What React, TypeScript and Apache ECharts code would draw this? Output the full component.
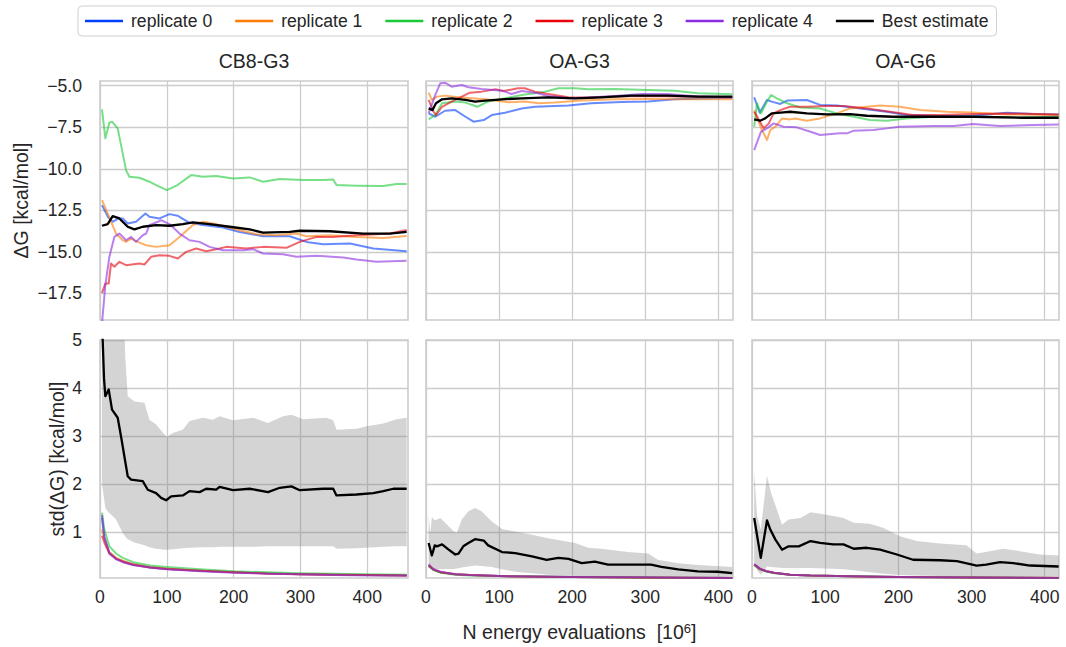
import React, { useEffect, useRef } from 'react';
import * as echarts from 'echarts';

// ---------- labels / ticks ----------
const REP_NAMES = ['replicate 0', 'replicate 1', 'replicate 2', 'replicate 3', 'replicate 4'];
const BEST_NAME = 'Best estimate';
const PANEL_TITLES = ['CB8-G3', 'OA-G3', 'OA-G6'];
const X_TICKS = [0, 100, 200, 300, 400];
const X_MAX = [461, 420, 419.5];
const DG_TICKS = [-17.5, -15, -12.5, -10, -7.5, -5];
const DG_RANGE = [-19.1, -4.72];
const STD_TICKS = [1, 2, 3, 4, 5];
const STD_RANGE = [0.04, 5];
const Y_LABEL_TOP = 'ΔG [kcal/mol]';
const Y_LABEL_BOTTOM = 'std(ΔG) [kcal/mol]';

// ---------- ΔG, CB8-G3 ----------
const cb8_dg_r0 = [[3,-12.19],[12,-12.9],[19,-13.19],[27,-13.0],[34,-12.99],[41.5,-13.29],[54,-13.19],[68,-12.69],[74,-12.89],[89,-12.99],[104,-12.73],[116.5,-12.83],[134,-13.25],[154,-13.39],[184,-13.53],[209,-13.8],[244,-14.06],[284,-14.06],[309,-14.4],[334,-14.54],[374,-14.5],[409,-14.8],[459,-14.96]];
const cb8_dg_r1 = [[3,-11.89],[11.5,-12.69],[24,-13.9],[34,-14.3],[39,-14.4],[46.5,-14.2],[56.5,-14.4],[69,-14.6],[84,-14.7],[104,-14.6],[119,-14.1],[139,-13.39],[154,-13.19],[174,-13.33],[199,-13.59],[234,-13.94],[264,-14.0],[294,-13.9],[309,-14.06],[344,-14.0],[384,-14.1],[424,-14.16],[459,-14.04]];
const cb8_dg_r2 = [[3,-6.43],[8,-8.17],[14,-7.23],[18,-7.17],[26.5,-7.57],[39,-10.08],[44,-10.48],[59,-10.54],[74,-10.78],[84,-10.98],[100,-11.29],[116,-10.98],[136.5,-10.38],[154,-10.48],[174,-10.44],[199,-10.58],[224,-10.52],[244,-10.78],[269,-10.62],[304,-10.68],[334,-10.68],[349,-10.64],[354,-10.98],[384,-11.02],[424,-11.04],[444,-10.92],[459,-10.92]];
const cb8_dg_r3 = [[3,-17.47],[8,-16.91],[13,-16.91],[16.5,-15.7],[21.5,-15.9],[29,-15.6],[39,-15.8],[59,-15.7],[66.5,-15.76],[76.5,-15.3],[89,-15.2],[104,-15.24],[116.5,-15.4],[129,-15.0],[144,-14.8],[159,-14.96],[179,-14.8],[189,-14.7],[219,-14.8],[244,-14.7],[279,-14.76],[299,-14.4],[324,-14.1],[349,-14.1],[384,-14.0],[434,-13.9],[459,-13.69]];
const cb8_dg_r4 = [[3,-19.3],[8,-17.0],[14,-15.3],[21.5,-14.1],[29,-13.9],[39,-14.3],[46.5,-14.1],[54,-14.4],[64,-14.0],[69,-13.9],[74,-13.39],[86.5,-13.19],[91.5,-13.09],[104,-13.33],[119,-13.9],[134,-14.3],[149,-14.4],[164,-14.7],[184,-14.9],[214,-14.9],[229,-14.84],[244,-15.1],[274,-15.14],[294,-15.3],[324,-15.24],[364,-15.34],[384,-15.46],[414,-15.6],[459,-15.54]];
const cb8_dg_best = [[3,-13.43],[11.5,-13.33],[19,-12.85],[29,-12.99],[41.5,-13.49],[51.5,-13.65],[64,-13.49],[84,-13.39],[104,-13.43],[124,-13.33],[139,-13.23],[164,-13.33],[194,-13.49],[224,-13.65],[244,-13.84],[284,-13.8],[299,-13.73],[344,-13.76],[394,-13.9],[434,-13.9],[459,-13.8]];

// ---------- ΔG, OA-G3 ----------
const oag3_dg_r0 = [[3.6,-6.67],[12.7,-6.87],[26,-6.51],[40,-6.47],[54,-6.87],[65,-7.17],[79,-7.07],[90,-6.77],[108,-6.63],[131,-6.37],[149,-6.27],[195,-6.2],[226,-6.06],[267,-5.98],[304,-5.96],[340,-5.82],[395,-5.76],[419,-5.72]];
const oag3_dg_r1 = [[3.6,-5.42],[8,-5.86],[15,-5.66],[26,-5.6],[45,-5.7],[81,-5.82],[113,-6.0],[135,-5.96],[154,-6.06],[176,-6.02],[213,-5.9],[258,-5.82],[304,-5.8],[349,-5.82],[419,-5.82]];
const oag3_dg_r2 = [[3.6,-7.03],[12.7,-6.77],[22,-6.06],[40,-5.96],[54,-6.02],[70,-6.27],[85,-5.96],[108,-5.76],[131,-5.56],[163,-5.36],[181,-5.16],[204,-5.16],[222,-5.22],[258,-5.2],[304,-5.26],[340,-5.3],[372,-5.46],[419,-5.52]];
const oag3_dg_r3 = [[3.6,-5.86],[10.5,-6.57],[13.6,-6.77],[22,-6.27],[35,-5.96],[49,-5.66],[60,-5.42],[76,-5.36],[95,-5.22],[106,-5.32],[126,-5.16],[135,-5.16],[149,-5.36],[167,-5.5],[195,-5.7],[222,-5.72],[258,-5.66],[304,-5.62],[349,-5.66],[419,-5.7]];
const oag3_dg_r4 = [[3.6,-6.67],[12.7,-5.56],[19.5,-4.86],[26,-4.82],[35,-5.06],[49,-4.96],[58,-5.1],[76,-5.2],[104,-5.3],[117,-5.5],[131,-5.32],[149,-5.42],[167,-5.62],[195,-5.76],[222,-5.72],[258,-5.62],[295,-5.5],[331,-5.5],[377,-5.66],[419,-5.7]];
const oag3_dg_best = [[3.6,-6.37],[9,-6.47],[13.6,-6.06],[22,-5.82],[35,-5.76],[54,-5.86],[67,-5.96],[81,-5.9],[104,-5.82],[131,-5.76],[167,-5.7],[204,-5.76],[240,-5.7],[281,-5.6],[331,-5.6],[372,-5.66],[419,-5.66]];

// ---------- ΔG, OA-G6 ----------
const oag6_dg_r0 = [[3,-5.7],[10.5,-6.63],[20.5,-5.86],[27,-5.96],[38.6,-6.1],[48,-5.9],[75,-5.86],[93,-6.16],[116,-6.2],[148,-6.37],[184,-6.57],[211,-6.77],[257,-6.83],[302,-6.81],[348,-6.63],[384,-6.71],[419,-6.73]];
const oag6_dg_r1 = [[3,-6.47],[13.6,-7.67],[20.5,-8.27],[25,-7.67],[32,-7.47],[41,-6.97],[52,-7.03],[59,-6.97],[75,-7.11],[93,-6.97],[116,-6.67],[134,-6.37],[157,-6.27],[175,-6.2],[202,-6.27],[230,-6.47],[266,-6.57],[302,-6.61],[348,-6.73],[419,-6.77]];
const oag6_dg_r2 = [[3,-7.47],[6.8,-6.06],[12.3,-6.67],[20.5,-5.96],[26,-5.56],[34,-5.76],[48,-6.06],[66,-6.31],[93,-6.37],[116,-6.67],[139,-6.87],[161,-7.07],[184,-7.11],[211,-6.97],[248,-6.87],[302,-6.87],[366,-6.91],[419,-6.87]];
const oag6_dg_r3 = [[3,-6.57],[16,-7.57],[23,-7.27],[29.5,-6.67],[38.6,-6.47],[52,-6.27],[75,-6.27],[102,-6.22],[125,-6.22],[157,-6.37],[189,-6.57],[220,-6.77],[257,-6.77],[302,-6.71],[348,-6.67],[419,-6.73]];
const oag6_dg_r4 = [[3,-8.88],[12.3,-7.77],[20.5,-7.57],[29.5,-7.27],[43,-7.47],[61,-7.51],[80,-7.77],[93,-7.97],[120,-7.87],[130,-7.87],[139,-7.71],[166,-7.67],[184,-7.57],[202,-7.47],[248,-7.43],[275,-7.43],[302,-7.31],[339,-7.43],[384,-7.37],[419,-7.33]];
const oag6_dg_best = [[3,-7.03],[11,-7.11],[18,-6.97],[27,-6.67],[43,-6.61],[52,-6.57],[75,-6.67],[102,-6.73],[134,-6.71],[157,-6.81],[193,-6.87],[239,-6.87],[302,-6.87],[370,-6.93],[419,-6.93]];

// ---------- std(ΔG), CB8-G3 ----------
const cb8_std_x = [3, 6.5, 14, 24, 34, 50, 75, 100, 150, 200, 250, 300, 350, 400, 459];
const cb8_std_r0 = [1.3, 0.9, 0.57, 0.45, 0.39, 0.32, 0.26, 0.23, 0.19, 0.16, 0.14, 0.12, 0.11, 0.1, 0.09];
const cb8_std_r1 = [1.05, 0.85, 0.58, 0.46, 0.4, 0.33, 0.27, 0.24, 0.19, 0.16, 0.14, 0.12, 0.11, 0.1, 0.09];
const cb8_std_r2 = [1.4, 1.05, 0.7, 0.55, 0.46, 0.37, 0.3, 0.27, 0.22, 0.18, 0.16, 0.14, 0.13, 0.12, 0.11];
const cb8_std_r3 = [0.92, 0.78, 0.55, 0.44, 0.38, 0.31, 0.26, 0.23, 0.19, 0.16, 0.13, 0.12, 0.11, 0.1, 0.09];
const cb8_std_r4 = [1.35, 0.88, 0.55, 0.43, 0.37, 0.31, 0.26, 0.22, 0.18, 0.15, 0.13, 0.12, 0.1, 0.09, 0.09];
const cb8_std_best = [[3,5.4],[6,4.2],[8,3.83],[13,3.97],[18,3.55],[26.5,3.38],[31.5,2.99],[41.5,2.16],[46.5,2.09],[64,2.06],[71.5,1.88],[84,1.81],[91.5,1.71],[99,1.66],[106.5,1.74],[124,1.76],[134,1.85],[149,1.83],[159,1.9],[174,1.88],[179,1.94],[199,1.87],[224,1.9],[251.5,1.83],[269,1.92],[286.5,1.95],[299,1.87],[334,1.9],[349,1.9],[354,1.76],[384,1.78],[409,1.81],[424,1.85],[439,1.9],[459,1.9]];
const cb8_band_x = [3, 8, 12, 24, 34, 38, 41.5, 51.5, 66.5, 74, 84, 96.5, 100, 109, 124, 134, 154, 169, 179, 199, 229, 251.5, 274, 286.5, 304, 339, 349, 354, 384, 399, 424, 444, 459];
const cb8_band_hi = [6.5, 6.5, 6.5, 6.5, 6.2, 4.6, 3.83, 3.72, 3.69, 3.34, 3.24, 3.03, 2.98, 3.06, 3.13, 3.31, 3.38, 3.34, 3.41, 3.33, 3.38, 3.27, 3.41, 3.44, 3.35, 3.38, 3.33, 3.13, 3.15, 3.2, 3.26, 3.35, 3.38];
const cb8_band_lo = [2.0, 1.5, 1.42, 1.26, 0.98, 0.9, 0.85, 0.78, 0.72, 0.68, 0.65, 0.63, 0.63, 0.64, 0.66, 0.67, 0.68, 0.68, 0.69, 0.69, 0.69, 0.7, 0.7, 0.7, 0.7, 0.7, 0.7, 0.65, 0.66, 0.67, 0.69, 0.7, 0.7];

// ---------- std(ΔG), OA-G3 ----------
const oag3_std_x = [3.6, 10, 20, 40, 60, 100, 150, 200, 290, 350, 419];
const oag3_std_r0 = [0.3, 0.21, 0.16, 0.12, 0.1, 0.08, 0.07, 0.06, 0.05, 0.045, 0.04];
const oag3_std_r1 = [0.31, 0.22, 0.16, 0.12, 0.1, 0.08, 0.07, 0.06, 0.05, 0.045, 0.04];
const oag3_std_r2 = [0.29, 0.21, 0.15, 0.11, 0.09, 0.08, 0.07, 0.06, 0.05, 0.045, 0.04];
const oag3_std_r3 = [0.3, 0.22, 0.16, 0.12, 0.1, 0.08, 0.065, 0.06, 0.05, 0.045, 0.04];
const oag3_std_r4 = [0.33, 0.23, 0.17, 0.12, 0.1, 0.08, 0.07, 0.06, 0.055, 0.045, 0.04];
const oag3_std_best = [[3.6,0.77],[8,0.51],[12,0.72],[15,0.7],[22,0.74],[31,0.63],[40,0.53],[44.5,0.55],[51,0.7],[58,0.77],[67,0.85],[79,0.82],[85,0.72],[104,0.58],[122,0.56],[145,0.49],[165,0.42],[181,0.46],[195,0.44],[213,0.35],[231,0.38],[249,0.32],[276,0.32],[308,0.32],[322,0.27],[345,0.22],[372,0.18],[399,0.17],[419,0.14]];
const oag3_band_x = [3.6, 6, 8, 12, 19.5, 29, 38, 42, 49, 58, 67, 76, 90, 104, 122, 145, 167, 181, 204, 222, 240, 276, 304, 317, 345, 372, 419];
const oag3_band_hi = [1.33, 0.98, 1.31, 1.24, 1.29, 1.15, 1.01, 0.98, 1.26, 1.43, 1.5, 1.43, 1.22, 1.06, 1.01, 0.94, 0.87, 0.83, 0.77, 0.67, 0.65, 0.58, 0.55, 0.42, 0.35, 0.31, 0.27];
const oag3_band_lo = [0.25, 0.24, 0.23, 0.23, 0.23, 0.23, 0.23, 0.24, 0.26, 0.28, 0.3, 0.29, 0.27, 0.22, 0.17, 0.14, 0.11, 0.1, 0.08, 0.07, 0.06, 0.05, 0.05, 0.05, 0.05, 0.05, 0.05];

// ---------- std(ΔG), OA-G6 ----------
const oag6_std_x = [3, 11, 20, 30, 52, 80, 116, 160, 200, 300, 419];
const oag6_std_r0 = [0.32, 0.23, 0.18, 0.15, 0.11, 0.09, 0.08, 0.07, 0.06, 0.05, 0.04];
const oag6_std_r1 = [0.31, 0.22, 0.18, 0.15, 0.11, 0.09, 0.08, 0.07, 0.06, 0.05, 0.045];
const oag6_std_r2 = [0.3, 0.22, 0.17, 0.14, 0.11, 0.09, 0.08, 0.07, 0.06, 0.05, 0.04];
const oag6_std_r3 = [0.32, 0.23, 0.18, 0.15, 0.11, 0.09, 0.08, 0.065, 0.06, 0.05, 0.04];
const oag6_std_r4 = [0.33, 0.23, 0.18, 0.15, 0.11, 0.09, 0.08, 0.07, 0.06, 0.05, 0.04];
const oag6_std_best = [[3,1.29],[12,0.46],[20.5,1.24],[25,1.05],[32,0.84],[41,0.63],[50,0.7],[64,0.7],[80,0.81],[93,0.77],[111,0.74],[125,0.74],[139,0.65],[157,0.67],[175,0.63],[198,0.53],[220,0.42],[257,0.41],[280,0.39],[307,0.3],[320,0.32],[339,0.37],[357,0.35],[380,0.3],[419,0.28]];
const oag6_band_x = [3, 7, 12, 20.5, 26, 34, 41, 50, 66, 80, 102, 125, 139, 161, 180, 202, 225, 257, 293, 307, 325, 343, 366, 393, 419];
const oag6_band_hi = [2.26, 1.33, 1.05, 2.17, 1.81, 1.47, 1.15, 1.26, 1.29, 1.41, 1.36, 1.29, 1.19, 1.17, 1.08, 0.91, 0.81, 0.76, 0.72, 0.55, 0.6, 0.65, 0.6, 0.53, 0.51];
const oag6_band_lo = [0.35, 0.2, 0.11, 0.28, 0.27, 0.26, 0.25, 0.25, 0.25, 0.25, 0.24, 0.22, 0.2, 0.16, 0.13, 0.1, 0.09, 0.08, 0.07, 0.06, 0.06, 0.06, 0.06, 0.06, 0.06];

// ---------- style ----------
const COLORS = ['#023eff', '#ff7c00', '#1ac938', '#e8000b', '#8b2be2'];
const FONT = '"Liberation Sans", Arial, Helvetica, sans-serif';
const TEXT = '#262626';
const GRIDC = '#cccccc';
const COL_LEFT = [100, 426, 752];
const COL_W = [308, 307, 307];
const ROW_TOP = [81, 340];
const ROW_H = [239, 238];

const zip = (xs: number[], ys: number[]) => xs.map((x, i) => [x, ys[i]]);

function rgba(hex: string, a: number) {
  const n = parseInt(hex.slice(1), 16);
  return `rgba(${(n >> 16) & 255},${(n >> 8) & 255},${n & 255},${a})`;
}

function lineSeries(name: string, color: string, data: number[][], idx: number, width: number, alpha: number, z: number) {
  return {
    type: 'line', name, data, xAxisIndex: idx, yAxisIndex: idx,
    showSymbol: false, symbol: 'none', smooth: false, clip: true, z, silent: true,
    itemStyle: { color },
    lineStyle: { color: alpha < 1 ? rgba(color, alpha) : color, width, join: 'round' },
    emphasis: { disabled: true },
  };
}

function bandSeries(xs: number[], lo: number[], hi: number[], idx: number) {
  return {
    type: 'custom', xAxisIndex: idx, yAxisIndex: idx, z: 1, silent: true, clip: true,
    data: [[xs[0], lo[0]]],
    renderItem: (params: any, api: any) => {
      const pts: number[][] = [];
      for (let i = 0; i < xs.length; i++) pts.push(api.coord([xs[i], hi[i]]));
      for (let i = xs.length - 1; i >= 0; i--) pts.push(api.coord([xs[i], lo[i]]));
      return { type: 'polygon', shape: { points: pts }, style: { fill: 'rgba(128,128,128,0.34)', stroke: 'none' } };
    },
  };
}

export default function App() {
  const ref = useRef<HTMLDivElement>(null);
  useEffect(() => {
    if (!ref.current) return;
    const chart = echarts.init(ref.current, null, { renderer: 'svg' });

    const dgPanels = [
      [cb8_dg_r0, cb8_dg_r1, cb8_dg_r2, cb8_dg_r3, cb8_dg_r4, cb8_dg_best],
      [oag3_dg_r0, oag3_dg_r1, oag3_dg_r2, oag3_dg_r3, oag3_dg_r4, oag3_dg_best],
      [oag6_dg_r0, oag6_dg_r1, oag6_dg_r2, oag6_dg_r3, oag6_dg_r4, oag6_dg_best],
    ];
    const stdPanels = [
      { x: cb8_std_x, reps: [cb8_std_r0, cb8_std_r1, cb8_std_r2, cb8_std_r3, cb8_std_r4], best: cb8_std_best, bx: cb8_band_x, lo: cb8_band_lo, hi: cb8_band_hi },
      { x: oag3_std_x, reps: [oag3_std_r0, oag3_std_r1, oag3_std_r2, oag3_std_r3, oag3_std_r4], best: oag3_std_best, bx: oag3_band_x, lo: oag3_band_lo, hi: oag3_band_hi },
      { x: oag6_std_x, reps: [oag6_std_r0, oag6_std_r1, oag6_std_r2, oag6_std_r3, oag6_std_r4], best: oag6_std_best, bx: oag6_band_x, lo: oag6_band_lo, hi: oag6_band_hi },
    ];

    const grids: any[] = [];
    const xAxes: any[] = [];
    const yAxes: any[] = [];
    const series: any[] = [];

    for (let r = 0; r < 2; r++) {
      for (let c = 0; c < 3; c++) {
        const idx = r * 3 + c;
        grids.push({ left: COL_LEFT[c], top: ROW_TOP[r], width: COL_W[c], height: ROW_H[r], show: true, borderColor: GRIDC, borderWidth: 1.6, containLabel: false });
        xAxes.push({
          type: 'value', gridIndex: idx, min: 0, max: X_MAX[c],
          axisLine: { show: false },
          axisTick: { show: false, customValues: X_TICKS },
          splitLine: { show: true, lineStyle: { color: GRIDC, width: 1.3 } },
          axisLabel: { show: r === 1, customValues: X_TICKS, color: TEXT, fontSize: 17.6, fontFamily: FONT, margin: 10 },
        });
        const ticks = r === 0 ? DG_TICKS : STD_TICKS;
        const range = r === 0 ? DG_RANGE : STD_RANGE;
        yAxes.push({
          type: 'value', gridIndex: idx, min: range[0], max: range[1],
          axisLine: { show: false },
          axisTick: { show: false, customValues: ticks },
          splitLine: { show: true, lineStyle: { color: GRIDC, width: 1.3 } },
          axisLabel: {
            show: c === 0, customValues: ticks, color: TEXT, fontSize: 17.6, fontFamily: FONT, margin: 18,
            formatter: (v: number) => (r === 0 ? (v < 0 ? '\u2212' : '') + Math.abs(v).toFixed(1) : String(Math.round(v))),
          },
        });
        if (r === 0) {
          const lines = dgPanels[c];
          for (let k = 0; k < 5; k++) series.push(lineSeries(REP_NAMES[k], COLORS[k], lines[k], idx, 2, 0.6, 2 + k));
          series.push(lineSeries(BEST_NAME, '#000000', lines[5], idx, 2.3, 1, 10));
        } else {
          const p = stdPanels[c];
          series.push(bandSeries(p.bx, p.lo, p.hi, idx));
          for (let k = 0; k < 5; k++) series.push(lineSeries(REP_NAMES[k], COLORS[k], zip(p.x, p.reps[k]), idx, 2, 0.6, 2 + k));
          series.push(lineSeries(BEST_NAME, '#000000', p.best, idx, 2.3, 1, 10));
        }
      }
    }

    const colCenters = COL_LEFT.map((l, i) => l + COL_W[i] / 2);
    const graphic: any[] = [
      ...PANEL_TITLES.map((t, i) => ({
        type: 'text', x: colCenters[i], y: 61, silent: true,
        style: { text: t, fill: TEXT, fontSize: 19.5, fontFamily: FONT, align: 'center', verticalAlign: 'middle', textAlign: 'center', textVerticalAlign: 'middle' },
      })),
      {
        type: 'text', x: 21, y: ROW_TOP[0] + ROW_H[0] / 2, rotation: Math.PI / 2, silent: true,
        style: { text: Y_LABEL_TOP, fill: TEXT, fontSize: 19.5, fontFamily: FONT, align: 'center', verticalAlign: 'middle', textAlign: 'center', textVerticalAlign: 'middle' },
      },
      {
        type: 'text', x: 57, y: ROW_TOP[1] + ROW_H[1] / 2, rotation: Math.PI / 2, silent: true,
        style: { text: Y_LABEL_BOTTOM, fill: TEXT, fontSize: 19.5, fontFamily: FONT, align: 'center', verticalAlign: 'middle', textAlign: 'center', textVerticalAlign: 'middle' },
      },
      {
        type: 'text', x: colCenters[1], y: 632, silent: true,
        style: {
          text: '{a|N energy evaluations  [10}{b|6}{a|]}',
          rich: {
            a: { fontSize: 19.5, fontFamily: FONT, fill: TEXT },
            b: { fontSize: 13, fontFamily: FONT, fill: TEXT, verticalAlign: 'top' },
          },
          fill: TEXT, fontSize: 19.5, fontFamily: FONT,
          align: 'center', verticalAlign: 'middle', textAlign: 'center', textVerticalAlign: 'middle',
        },
      },
    ];

    chart.setOption({
      animation: false,
      backgroundColor: '#ffffff',
      textStyle: { fontFamily: FONT, color: TEXT },
      legend: {
        left: 78, top: 6,
        padding: [6, 8, 6, 7],
        borderColor: '#d0d0d0', borderWidth: 1, borderRadius: 4,
        backgroundColor: '#ffffff',
        itemWidth: 38, itemHeight: 2.6, itemGap: 23,
        icon: 'rect',
        selectedMode: false,
        textStyle: { fontSize: 17.6, color: TEXT, fontFamily: FONT, padding: [0, 0, 0, 3] },
        data: [
          ...REP_NAMES.map((n, i) => ({ name: n, itemStyle: { color: COLORS[i], opacity: 1 } })),
          { name: BEST_NAME, itemStyle: { color: '#000000', opacity: 1 } },
        ],
      },
      grid: grids,
      xAxis: xAxes,
      yAxis: yAxes,
      series,
      graphic,
    });
    return () => chart.dispose();
  }, []);
  return <div ref={ref} style={{ position: 'fixed', left: 0, top: 0, width: 1066, height: 647 }} />;
}
